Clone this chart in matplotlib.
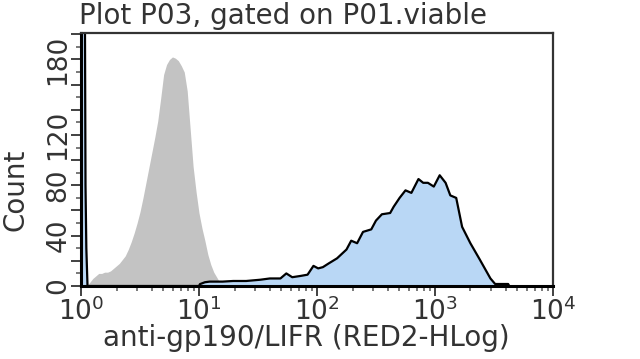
import numpy as np
import matplotlib
matplotlib.use("Agg")
import matplotlib.pyplot as plt
from matplotlib.ticker import FixedLocator, NullFormatter

# isotype control (grey), positions in log10 decades
grey_log = [0.050, 0.075, 0.100, 0.125, 0.150, 0.175, 0.200, 0.225, 0.250, 0.275,
            0.300, 0.325, 0.350, 0.375, 0.400, 0.425, 0.450, 0.475, 0.500, 0.525,
            0.550, 0.575, 0.600, 0.625, 0.650, 0.675, 0.700, 0.725, 0.750, 0.775,
            0.800, 0.825, 0.850, 0.875, 0.900, 0.925, 0.950, 0.975, 1.000, 1.025,
            1.050, 1.075, 1.100, 1.125, 1.150, 1.175, 1.200]
grey_cnt = [0, 3, 6, 8, 10, 10, 11, 11, 12, 14,
            16, 18, 21, 24, 29, 35, 42, 50, 59, 70,
            82, 94, 106, 118, 131, 149, 168, 176, 180, 182,
            181, 179, 175, 170, 155, 125, 95, 75, 58, 46,
            36, 25, 17, 11, 7, 3, 0]

# anti-gp190/LIFR stained (blue)
blue_log = [0.000, 0.030, 0.038, 0.045, 0.055, 1.000, 1.008, 1.05, 1.09, 1.20, 1.29, 1.40,
            1.52, 1.60, 1.69, 1.74, 1.79, 1.86, 1.92, 1.97, 2.01, 2.05, 2.10, 2.17,
            2.25, 2.29, 2.34, 2.39, 2.46, 2.50, 2.55, 2.62, 2.65, 2.70, 2.75, 2.80,
            2.86, 2.90, 2.94, 2.99, 3.04, 3.09, 3.13, 3.18, 3.23, 3.30, 3.38, 3.47,
            3.51, 3.62, 3.63]
blue_cnt = [300, 300, 80, 30, 0, 0, 1.5, 3, 3.5, 3.5, 4, 4,
            5, 6, 6, 10, 7, 8, 9, 16, 14, 15, 18, 22,
            29, 36, 34, 43, 45, 52, 57, 58, 63, 70, 76, 74,
            85, 82, 82, 79, 88, 82, 72, 70, 47, 34, 21, 6,
            1.6, 1.6, 0]

y_labels = {0: "0", 40: "40", 80: "80", 120: "120", 180: "180"}

fig = plt.figure(figsize=(6.4, 3.59), dpi=100)
ax = fig.add_axes([0.1266, 0.2033, 0.7374, 0.7047])

gx = 10 ** np.array(grey_log)
bx = 10 ** np.array(blue_log)
ax.fill_between(gx, 0, grey_cnt, color="#c3c3c3", lw=0)
ax.fill_between(bx, 0, blue_cnt, color="#b9d7f5", lw=0)
ax.plot(bx, blue_cnt, color="black", lw=1.6)

ax.set_xscale("log")
ax.set_xlim(1, 1e4)
ax.set_ylim(0, 201)

ax.set_xticks([1, 10, 100, 1000, 10000])
ax.set_xticklabels([r"$10^{0}$", r"$10^{1}$", r"$10^{2}$", r"$10^{3}$", r"$10^{4}$"])
ax.xaxis.set_minor_locator(FixedLocator([m * 10 ** d for d in range(4) for m in range(2, 10)]))
ax.xaxis.set_minor_formatter(NullFormatter())

ax.set_yticks(list(range(0, 201, 20)))
ax.set_yticklabels([y_labels.get(v, "") for v in range(0, 201, 20)], rotation=90, va="center")
ax.yaxis.set_minor_locator(FixedLocator(list(range(10, 200, 20))))

ax.tick_params(axis="both", which="major", length=7, width=1.3, color="#333333",
               labelsize=19, labelcolor="#333333")
ax.tick_params(axis="both", which="minor", length=3.5, width=1.1, color="#555555")
ax.tick_params(axis="x", pad=1)
ax.tick_params(axis="y", pad=0)

for s in ("left", "bottom"):
    ax.spines[s].set_linewidth(2.2)
    ax.spines[s].set_color("black")
for s in ("top", "right"):
    ax.spines[s].set_linewidth(1.6)
    ax.spines[s].set_color("#333333")

ax.set_xlabel("anti-gp190/LIFR (RED2-HLog)", fontsize=20, color="#333333")
ax.xaxis.set_label_coords(0.477, -0.15)
ax.set_ylabel("Count", fontsize=20, color="#333333")
ax.yaxis.set_label_coords(-0.11, 0.38)
fig.text(0.123, 0.955, "Plot P03, gated on P01.viable", fontsize=20, color="#333333",
         va="center", ha="left")

fig.savefig("out.png", dpi=100)
